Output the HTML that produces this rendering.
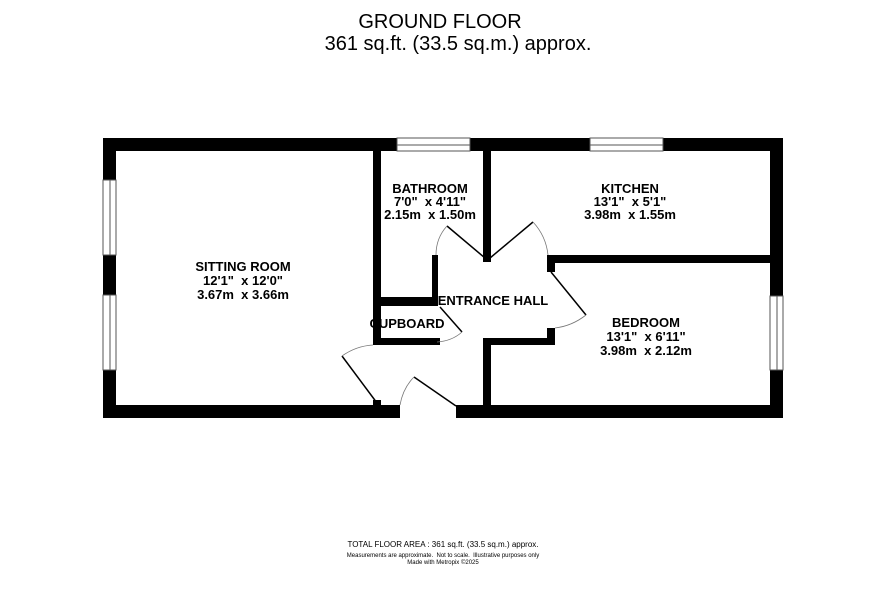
<!DOCTYPE html>
<html><head><meta charset="utf-8"><style>
html,body{margin:0;padding:0;background:#fff;}
svg{display:block;font-family:"Liberation Sans",sans-serif;}
text{white-space:pre;}
</style></head><body>
<svg width="886" height="593" viewBox="0 0 886 593" xmlns="http://www.w3.org/2000/svg">
<text x="440" y="28" font-size="20" text-anchor="middle">GROUND FLOOR</text>
<text x="458" y="50" font-size="20" text-anchor="middle">361 sq.ft. (33.5 sq.m.) approx.</text>
<g fill="#000">
<rect x="103" y="138" width="294" height="13"/>
<rect x="470" y="138" width="120" height="13"/>
<rect x="663" y="138" width="120" height="13"/>
<rect x="103" y="138" width="13" height="42"/>
<rect x="103" y="255" width="13" height="40"/>
<rect x="103" y="370" width="13" height="48"/>
<rect x="103" y="405" width="297" height="13"/>
<rect x="456" y="405" width="327" height="13"/>
<rect x="770" y="138" width="13" height="158"/>
<rect x="770" y="370" width="13" height="48"/>
<rect x="373" y="151" width="8" height="194"/>
<rect x="380" y="297" width="58" height="9"/>
<rect x="432" y="255" width="6" height="51"/>
<rect x="373" y="338" width="67" height="7"/>
<rect x="483" y="151" width="8" height="111"/>
<rect x="547" y="255" width="223" height="8"/>
<rect x="547" y="255" width="8" height="17"/>
<rect x="483" y="338" width="72" height="7"/>
<rect x="547" y="328" width="8" height="17"/>
<rect x="483" y="338" width="8" height="67"/>
<rect x="373" y="400" width="8" height="5"/>
</g>
<g fill="#fff" stroke="#555" stroke-width="1">
<rect x="103" y="180" width="13" height="75"/>
<rect x="103" y="295" width="13" height="75"/>
<rect x="397" y="138" width="73" height="13"/>
<rect x="590" y="138" width="73" height="13"/>
<rect x="770" y="296" width="13" height="74"/>
</g>
<g stroke="#555" stroke-width="1">
<line x1="110" y1="180" x2="110" y2="255"/><line x1="110" y1="295" x2="110" y2="370"/>
<line x1="397" y1="145" x2="470" y2="145"/><line x1="590" y1="145" x2="663" y2="145"/>
<line x1="777" y1="296" x2="777" y2="370"/>
</g>
<g stroke="#000" stroke-width="1.5" fill="none">
<line x1="485" y1="258" x2="447" y2="226"/>
<line x1="490" y1="258" x2="533" y2="222"/>
<line x1="551" y1="272" x2="586" y2="315"/>
<line x1="440" y1="307" x2="462" y2="332"/>
<line x1="456" y1="406" x2="414" y2="377"/>
<line x1="377" y1="403" x2="342" y2="356"/>
</g>
<g stroke="#777" stroke-width="0.8" fill="none">
<path d="M447 226 Q436 238 436 255"/>
<path d="M533 222 Q546 236 548 255"/>
<path d="M586 315 Q572 326 555 328"/>
<path d="M462 332 Q452 341 437 342"/>
<path d="M414 377 Q403 388 400 405"/>
<path d="M342 356 Q356 346 373 345"/>
</g>
<g font-size="13" font-weight="bold" text-anchor="middle">
<text x="243" y="271">SITTING ROOM</text><text x="243" y="285">12'1"  x 12'0"</text><text x="243" y="299">3.67m  x 3.66m</text>
<text x="430" y="193">BATHROOM</text><text x="430" y="206">7'0"  x 4'11"</text><text x="430" y="219">2.15m  x 1.50m</text>
<text x="630" y="193">KITCHEN</text><text x="630" y="206">13'1"  x 5'1"</text><text x="630" y="219">3.98m  x 1.55m</text>
<text x="646" y="327">BEDROOM</text><text x="646" y="341">13'1"  x 6'11"</text><text x="646" y="355">3.98m  x 2.12m</text>
<text x="493" y="305">ENTRANCE HALL</text>
<text x="407" y="328">CUPBOARD</text>
</g>
<text x="443" y="547" font-size="8" text-anchor="middle">TOTAL FLOOR AREA : 361 sq.ft. (33.5 sq.m.) approx.</text>
<text x="443" y="557" font-size="6" text-anchor="middle">Measurements are approximate.  Not to scale.  Illustrative purposes only</text>
<text x="443" y="564" font-size="6" text-anchor="middle">Made with Metropix ©2025</text>
</svg>
</body></html>
